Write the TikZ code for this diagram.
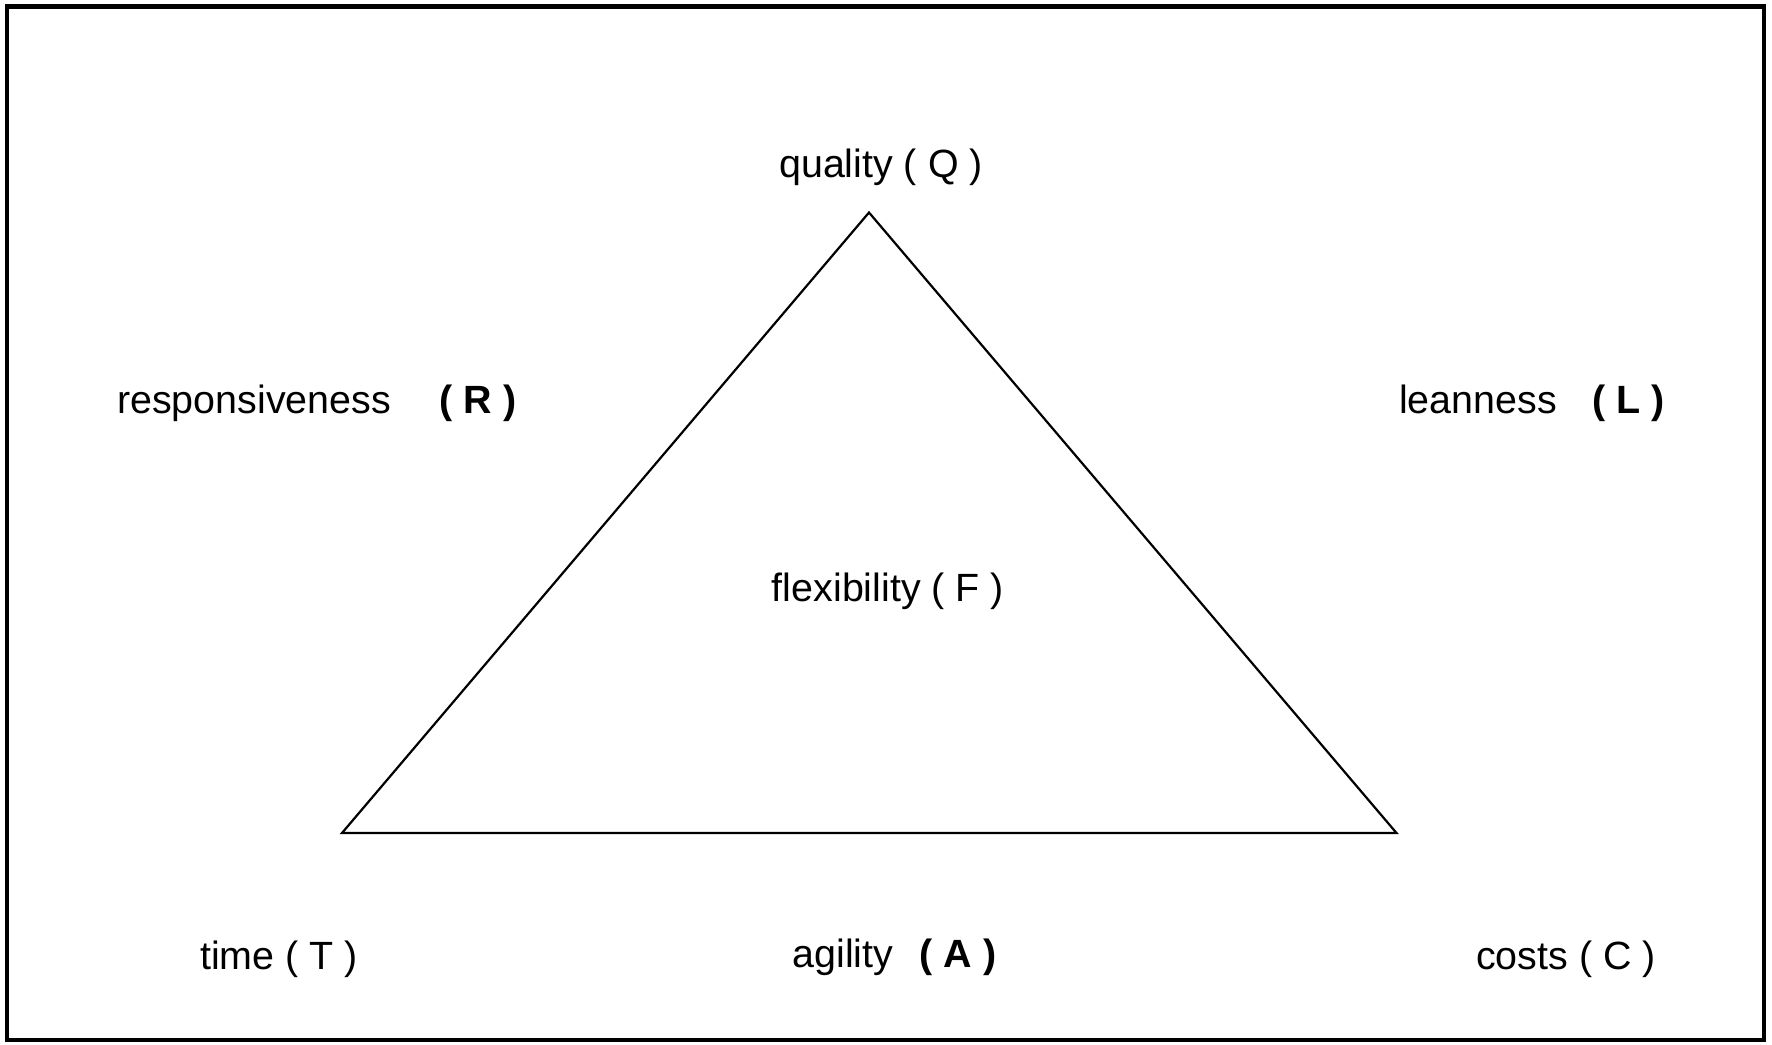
\documentclass[tikz,border=0pt]{standalone}
\usepackage{fontspec}
\setmainfont{Liberation Sans}
\begin{document}
\begin{tikzpicture}[x=0.5pt,y=-0.5pt,
  lbl/.style={anchor=base,inner sep=0pt,font=\fontsize{19.7}{23}\selectfont},
  blbl/.style={lbl,font=\fontsize{19.7}{23}\selectfont\bfseries}]
\useasboundingbox (0,0) rectangle (1772,1044);
\draw[line width=2.3pt] (7,6.5) rectangle (1764,1040);
\coordinate (apex) at (869,212.5);
\coordinate (bl) at (342,833);
\coordinate (br) at (1396.5,833);
\draw[line width=1.1pt] (apex) -- (br) -- (bl) -- cycle;
\node[lbl] (q) at (881,177) {quality ( Q )};
\node[lbl] (r) at (254,413) {responsiveness};
\node[blbl] (rb) at (478,413) {( R )};
\node[lbl] (l) at (1478,413) {leanness};
\node[blbl] (lb) at (1629,413) {( L )};
\node[lbl] (f) at (888,601) {flexibility ( F )};
\node[lbl] (t) at (279,969) {time ( T )};
\node[lbl] (a) at (843,967) {agility};
\node[blbl] (ab) at (958,967) {( A )};
\node[lbl] (c) at (1566,969) {costs ( C )};
\end{tikzpicture}
\end{document}
